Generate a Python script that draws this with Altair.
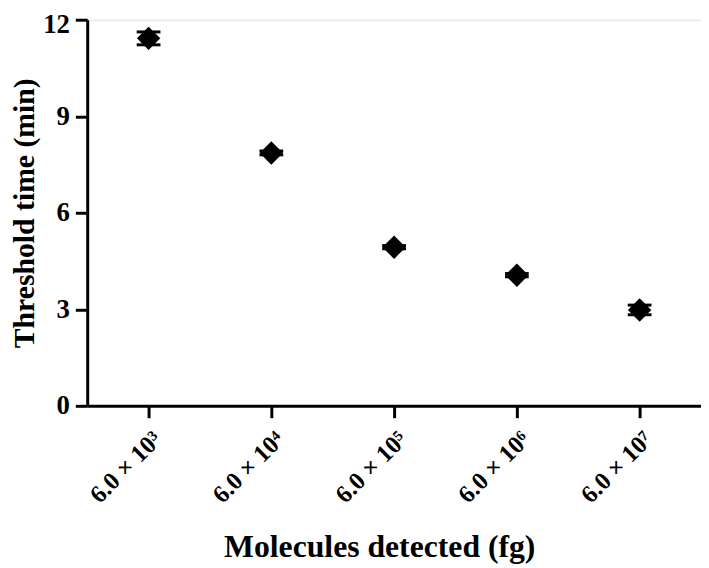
import altair as alt
import pandas as pd

labels = ["6.0 × 10³", "6.0 × 10⁴", "6.0 × 10⁵", "6.0 × 10⁶", "6.0 × 10⁷"]
means = [11.42, 7.86, 4.93, 4.06, 2.98]
errs = [0.2, 0.06, 0.05, 0.05, 0.15]

df = pd.DataFrame({"label": labels, "mean": means, "err": errs})
df["lo"] = df["mean"] - df["err"]
df["hi"] = df["mean"] + df["err"]

FONT = "Liberation Serif"

x = alt.X("label:N", sort=labels, title="Molecules detected (fg)",
          scale=alt.Scale(type="point", padding=0.5),
          axis=alt.Axis(labelAngle=-45, labelFontSize=25, labelFont=FONT,
                        labelFontWeight="bold", labelColor="black",
                        titleFontSize=32, titleFont=FONT, titleFontWeight="bold",
                        titleColor="black", domainWidth=3, domainColor="black",
                        tickWidth=3, tickColor="black", tickSize=12,
                        labelPadding=9, grid=False,
                        titleX=295, titleY=152, titleBaseline="alphabetic",
                        titleAlign="center", titleAnchor="start"))
y_axis = alt.Axis(values=[0, 3, 6, 9, 12], labelFontSize=27, labelFont=FONT,
                  labelFontWeight="bold", labelColor="black",
                  labelOffset=alt.ConditionalAxisNumber(
                      condition={"test": "datum.value == 12", "value": 5}, value=0),
                  titleFontSize=30, titleFont=FONT, titleFontWeight="bold",
                  titleColor="black", domainWidth=3, domainColor="black",
                  tickWidth=3, tickColor="black", tickSize=12, labelPadding=6,
                  titlePadding=3, grid=False)

base = alt.Chart(df)
points = base.mark_point(shape="diamond", filled=True, color="black", size=560, opacity=1).encode(
    x=x,
    y=alt.Y("mean:Q", title="Threshold time (min)", scale=alt.Scale(domain=[0, 12], nice=False),
            axis=y_axis),
)
rules = base.mark_rule(color="black", strokeWidth=2.5, opacity=1).encode(x=x, y="lo:Q", y2="hi:Q")
cap_lo = base.mark_tick(color="black", thickness=3, size=24, orient="horizontal", opacity=1).encode(x=x, y="lo:Q")
cap_hi = base.mark_tick(color="black", thickness=3, size=24, orient="horizontal", opacity=1).encode(x=x, y="hi:Q")

chart = alt.layer(rules, cap_lo, cap_hi, points).properties(
    width=620, height=390,
    autosize=alt.AutoSizeParams(type="none"),
    padding={"left": 80, "top": 9, "right": 0, "bottom": 161},
).configure_view(stroke=None).configure(background="white")

chart.save("out.html", embed_options={"renderer": "svg", "actions": False})
